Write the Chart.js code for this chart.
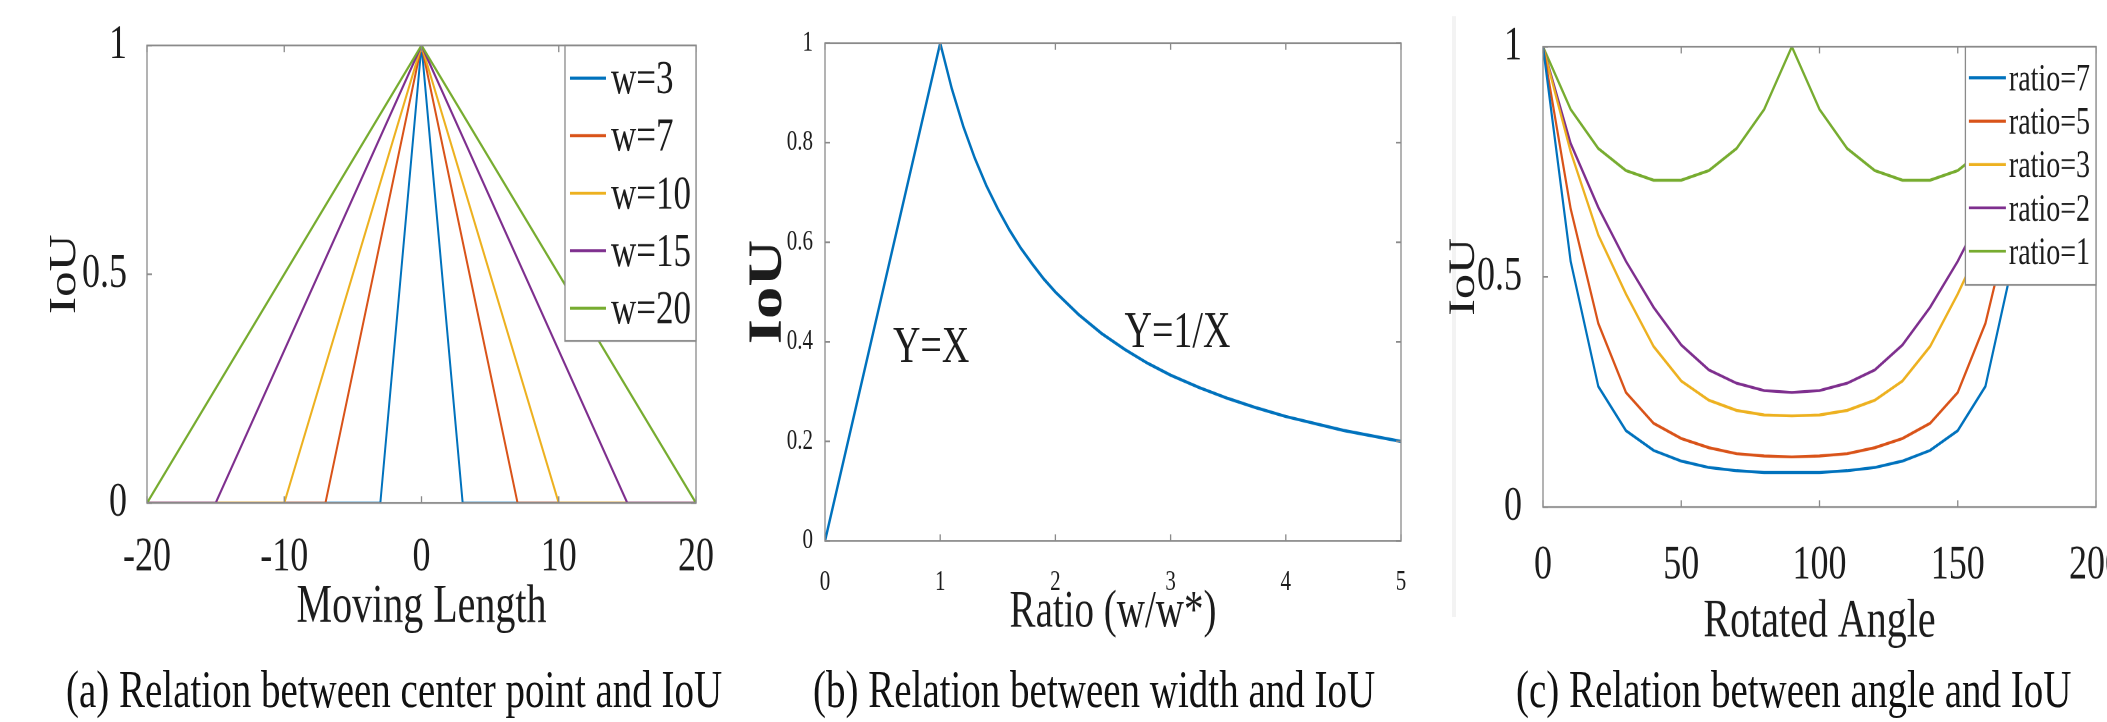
<!DOCTYPE html>
<html>
<head>
<meta charset="utf-8">
<script src="https://cdn.jsdelivr.net/npm/chart.js@4.4.1/dist/chart.umd.min.js"></script>
<style>
  body { margin: 0; width: 2107px; height: 722px; overflow: hidden; background: #fff; }
  #page { position: absolute; left: 0; top: 0; width: 2107px; height: 535px;
          transform: scaleY(1.35); transform-origin: 0 0; }
  .panel { position: absolute; top: 0; }
  .cap { position: absolute; font-family: "Liberation Serif", "Times New Roman", serif;
         font-size: 39px; line-height: 39px; white-space: nowrap; color: #111; }
  #sep { position: absolute; left: 1452px; top: 12px; width: 4px; height: 445px; background: #f3f3f3; }
</style>
</head>
<body>
<div id="page">
  <div id="sep"></div>
  <div class="panel" style="left:0px"><canvas id="chartA" width="740" height="474"></canvas></div>
  <div class="panel" style="left:740px"><canvas id="chartB" width="700" height="477"></canvas></div>
  <div class="panel" style="left:1440px"><canvas id="chartC" width="720" height="485"></canvas></div>
  <div class="cap" style="left:66px; top:491px">(a) Relation between center point and IoU</div>
  <div class="cap" style="left:813px; top:491px">(b) Relation between width and IoU</div>
  <div class="cap" style="left:1516px; top:491px">(c) Relation between angle and IoU</div>
</div>
<script>
// (a) moving length vs IoU, one polyline per box width
const widthLabels = ['w=3', 'w=7', 'w=10', 'w=15', 'w=20'];
const moveW3  = [-20, -3, 0, 3, 20];
const moveW7  = [-20, -7, 0, 7, 20];
const moveW10 = [-20, -10, 0, 10, 20];
const moveW15 = [-20, -15, 0, 15, 20];
const moveW20 = [-20, -20, 0, 20, 20];
const iouMove = [0, 0, 1, 0, 0];

// (b) width ratio vs IoU
const ratioX   = [0, 1, 1.1, 1.2, 1.3, 1.4, 1.5, 1.6, 1.7, 1.8, 1.9, 2, 2.2, 2.4, 2.6, 2.8, 3, 3.25, 3.5, 3.75, 4, 4.5, 5];
const iouRatio = [0, 1, 0.909, 0.833, 0.769, 0.714, 0.667, 0.625, 0.588, 0.556, 0.526, 0.5, 0.455, 0.417, 0.385, 0.357, 0.333, 0.308, 0.286, 0.267, 0.25, 0.222, 0.2];
const ratioNotes = ['Y=X', 'Y=1/X'];

// (c) rotated angle vs IoU
const angleLabels = ['ratio=7', 'ratio=5', 'ratio=3', 'ratio=2', 'ratio=1'];
const angleDeg = [0, 10, 20, 30, 40, 50, 60, 70, 80, 90, 100, 110, 120, 130, 140, 150, 160, 170, 180];
const iouR7 = [1, 0.534, 0.262, 0.166, 0.123, 0.1, 0.086, 0.079, 0.075, 0.075, 0.075, 0.079, 0.086, 0.1, 0.123, 0.166, 0.262, 0.534, 1];
const iouR5 = [1, 0.648, 0.399, 0.249, 0.182, 0.149, 0.129, 0.116, 0.111, 0.109, 0.111, 0.116, 0.129, 0.149, 0.182, 0.249, 0.399, 0.648, 1];
const iouR3 = [1, 0.772, 0.591, 0.463, 0.349, 0.274, 0.232, 0.21, 0.2, 0.198, 0.2, 0.21, 0.232, 0.274, 0.349, 0.463, 0.591, 0.772, 1];
const iouR2 = [1, 0.79, 0.651, 0.534, 0.434, 0.352, 0.298, 0.269, 0.253, 0.249, 0.253, 0.269, 0.298, 0.352, 0.434, 0.534, 0.651, 0.79, 1];
const iouR1 = [1, 0.864, 0.779, 0.731, 0.71, 0.71, 0.731, 0.779, 0.864, 1, 0.864, 0.779, 0.731, 0.71, 0.71, 0.731, 0.779, 0.864, 1];

const COLORS = ['#0072BD', '#D95319', '#EDB120', '#7E2F8E', '#77AC30'];
const SERIF = '"Liberation Serif", "Times New Roman", serif';
const INK = '#1c1c1c';
const FRAME = '#8a8a8a';

const pts = (xs, ys) => xs.map((x, i) => ({ x: x, y: ys[i] }));
const plainNum = v => String(Number(v.toFixed(2)));

// matlab style box with inward ticks on all four sides
const boxPlugin = {
  id: 'matBox',
  afterDatasetsDraw(chart) {
    const { ctx, chartArea: { left, right, top, bottom }, scales: { x, y } } = chart;
    const t = 5;
    ctx.save();
    ctx.strokeStyle = FRAME;
    ctx.lineWidth = 1.3;
    ctx.beginPath();
    x.ticks.forEach((tk, i) => {
      const px = x.getPixelForTick(i);
      ctx.moveTo(px, bottom); ctx.lineTo(px, bottom - t);
      ctx.moveTo(px, top); ctx.lineTo(px, top + t);
    });
    y.ticks.forEach((tk, i) => {
      const py = y.getPixelForTick(i);
      ctx.moveTo(left, py); ctx.lineTo(left + t, py);
      ctx.moveTo(right, py); ctx.lineTo(right - t, py);
    });
    ctx.stroke();
    ctx.strokeRect(left, top, right - left, bottom - top);
    ctx.restore();
  }
};

// legend box drawn inside the top right corner of the plot
const legendPlugin = {
  id: 'boxLegend',
  afterDraw(chart, args, o) {
    if (!o.display) return;
    const { ctx, chartArea } = chart;
    const sets = chart.data.datasets;
    ctx.save();
    ctx.font = o.size + 'px ' + SERIF;
    const textW = Math.max(...sets.map(d => ctx.measureText(d.label).width));
    const w = o.pad + o.sample + o.gap + textW + o.padRight;
    const h = o.padTop + o.row * sets.length + o.padBottom;
    const x0 = chartArea.right - w;
    const y0 = chartArea.top;
    ctx.fillStyle = '#fff';
    ctx.fillRect(x0, y0, w, h);
    ctx.strokeStyle = FRAME;
    ctx.lineWidth = 1.3;
    ctx.strokeRect(x0, y0, w, h);
    ctx.textBaseline = 'middle';
    sets.forEach((d, i) => {
      const cy = y0 + o.padTop + o.row * (i + 0.5);
      ctx.strokeStyle = d.borderColor;
      ctx.lineWidth = 2.2;
      ctx.beginPath();
      ctx.moveTo(x0 + o.pad, cy - 2);
      ctx.lineTo(x0 + o.pad + o.sample, cy - 2);
      ctx.stroke();
      ctx.fillStyle = INK;
      ctx.fillText(d.label, x0 + o.pad + o.sample + o.gap, cy);
    });
    ctx.restore();
  }
};

// text notes placed at data coordinates
const notePlugin = {
  id: 'notes',
  afterDatasetsDraw(chart, args, o) {
    if (!o.items) return;
    const { ctx, scales: { x, y } } = chart;
    ctx.save();
    ctx.font = o.size + 'px ' + SERIF;
    ctx.fillStyle = INK;
    ctx.textBaseline = 'alphabetic';
    o.items.forEach(n => ctx.fillText(n.text, x.getPixelForValue(n.x), y.getPixelForValue(n.y)));
    ctx.restore();
  }
};

function font(size, weight) {
  return { family: SERIF, size: size, weight: weight || 'normal' };
}

function makeChart(id, datasets, o) {
  return new Chart(document.getElementById(id), {
    type: 'line',
    data: { datasets: datasets },
    options: {
      responsive: false,
      animation: false,
      devicePixelRatio: 2,
      layout: { padding: o.pad },
      plugins: {
        legend: { display: false },
        tooltip: { enabled: false },
        boxLegend: o.legend || { display: false },
        notes: o.notes || {}
      },
      scales: {
        x: {
          type: 'linear', min: o.xMin, max: o.xMax,
          grid: { display: false }, border: { display: false },
          ticks: { stepSize: o.xStep, font: font(o.tickSize), color: INK, padding: o.xPad, maxRotation: 0 },
          title: { display: true, text: o.xTitle, font: font(o.xTitleSize), color: INK, padding: { top: 0, bottom: 0 } },
          afterFit: s => { s.height = o.xHeight; }
        },
        y: {
          type: 'linear', min: 0, max: 1,
          grid: { display: false }, border: { display: false },
          ticks: { stepSize: o.yStep, font: font(o.tickSize), color: INK, padding: o.yPad, callback: plainNum },
          title: { display: true, text: 'IoU', font: font(o.yTitleSize, o.yTitleWeight), color: INK, padding: { top: o.yTitlePad, bottom: 0 } },
          afterFit: s => { s.width = o.yWidth; }
        }
      }
    },
    plugins: [boxPlugin, notePlugin, legendPlugin]
  });
}

function lineSet(label, data, color, width, order) {
  return { label: label, data: data, borderColor: color, backgroundColor: color,
           borderWidth: width, pointRadius: 0, fill: false, tension: 0, order: order };
}

const moveSeries = [moveW3, moveW7, moveW10, moveW15, moveW20];
makeChart('chartA',
  moveSeries.map((xs, i) => lineSet(widthLabels[i], pts(xs, iouMove), COLORS[i], 2, 5 - i)),
  {
    pad: { left: 0, right: 44, top: 29.6, bottom: 0 },
    xMin: -20, xMax: 20, xStep: 10, yStep: 0.5,
    tickSize: 36, xPad: 11, yPad: 12,
    xTitle: 'Moving Length', xTitleSize: 40, xHeight: 101.4,
    yTitleSize: 38, yTitleWeight: 'normal', yTitlePad: 42, yWidth: 147,
    legend: { display: true, size: 35, pad: 5, sample: 36, gap: 5, padRight: 5, padTop: 5, row: 42.6, padBottom: 1 }
  });

makeChart('chartB',
  [lineSet('IoU', pts(ratioX, iouRatio), COLORS[0], 2.4, 0)],
  {
    pad: { left: 0, right: 39, top: 31.9, bottom: 0 },
    xMin: 0, xMax: 5, xStep: 1, yStep: 0.2,
    tickSize: 21, xPad: 10, yPad: 4,
    xTitle: 'Ratio (w/w*)', xTitleSize: 39, xHeight: 76.3,
    yTitleSize: 48, yTitleWeight: 'bold', yTitlePad: 0, yWidth: 85,
    notes: { size: 38, items: [
      { text: ratioNotes[0], x: 0.59, y: 0.36 },
      { text: ratioNotes[1], x: 2.6, y: 0.39 }
    ] }
  });

const angleSeries = [iouR7, iouR5, iouR3, iouR2, iouR1];
makeChart('chartC',
  angleSeries.map((ys, i) => lineSet(angleLabels[i], pts(angleDeg, ys), COLORS[i], 2.2, i)),
  {
    pad: { left: 0, right: 64, top: 28.1, bottom: 0 },
    xMin: 0, xMax: 200, xStep: 50, yStep: 0.5,
    tickSize: 36, xPad: 14, yPad: 13,
    xTitle: 'Rotated Angle', xTitleSize: 40, xHeight: 109.4,
    yTitleSize: 37, yTitleWeight: 'normal', yTitlePad: 2, yWidth: 103,
    legend: { display: true, size: 28, pad: 3.5, sample: 37, gap: 3, padRight: 6, padTop: 9, row: 32.1, padBottom: 7 }
  });
</script>
</body>
</html>
